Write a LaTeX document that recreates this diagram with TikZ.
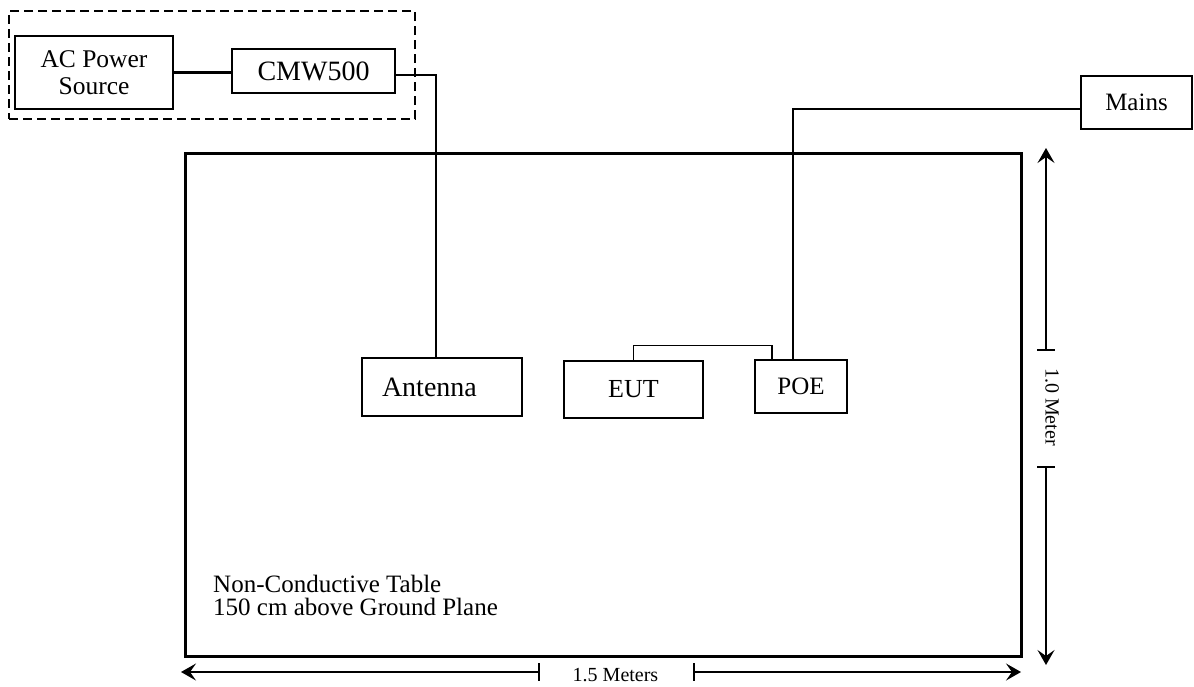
\documentclass[tikz,border=0pt]{standalone}
\usepackage{fontspec}
\setmainfont{Liberation Serif}
\usetikzlibrary{arrows.meta}
\begin{document}
\begin{tikzpicture}[x=1pt,y=-1pt,
  box/.style={draw,line width=1.4pt,inner sep=0pt,align=center},
  wire/.style={line width=1.2pt},
  dim/.style={line width=1.3pt},
  tip/.style={-{Stealth[length=15pt,width=17pt,inset=6pt]}},
  dimlabel/.style={font=\fontsize{20}{24}\selectfont,inner sep=0pt}
]
\useasboundingbox (0,0) rectangle (1194,686);

% equipment group
\node[draw,dash pattern=on 9pt off 5pt,line width=1.3pt,minimum width=406pt,minimum height=108pt,inner sep=0pt] (grp) at (212,65) {};
\node[box,minimum width=158pt,minimum height=73pt,font=\fontsize{25.5}{27}\selectfont] (ac) at (94,72.5) {AC Power\\Source};
\node[box,minimum width=163pt,minimum height=44pt,font=\fontsize{28}{32}\selectfont] (cmw) at (313.5,71) {CMW500};

% mains
\node[box,minimum width=111pt,minimum height=53pt,font=\fontsize{25}{30}\selectfont] (mains) at (1136.5,102.5) {Mains};

% table
\node[draw,line width=3pt,minimum width=836pt,minimum height=503pt,inner sep=0pt] (table) at (603,404.5) {};
\node[anchor=north west,align=left,inner sep=0pt,font=\fontsize{25}{23}\selectfont] (tlabel) at (213,575) {Non-Conductive Table\\150 cm above Ground Plane};

% devices on table
\node[box,minimum width=160pt,minimum height=58pt,text width=120pt,inner xsep=20pt,align=left,font=\fontsize{28}{32}\selectfont] (ant) at (442,387) {Antenna};
\node[box,minimum width=139pt,minimum height=57pt,font=\fontsize{26}{30}\selectfont] (eut) at (633.5,389.5) {EUT};
\node[box,minimum width=92pt,minimum height=53pt,font=\fontsize{25}{30}\selectfont] (poe) at (801,386.5) {POE};

% connectors
\draw[line width=3pt] (ac.east) -- (ac.east -| cmw.west);
\draw[wire] ([yshift=-4pt]cmw.east) -| ([xshift=-6pt]ant.north);
\draw[wire] (eut.north) -- ++(0,-15) -| ([xshift=-29pt]poe.north);
\draw[wire] ([yshift=-6.5pt]mains.west) -| ([xshift=-8pt]poe.north);

% horizontal dimension
\coordinate (bl) at (181,672);
\coordinate (br) at (1021,672);
\coordinate (bt1) at (539,672);
\coordinate (bt2) at (694,672);
\node[dimlabel] (blen) at (615.5,675) {1.5 Meters};
\draw[dim,tip] (bt1) -- (bl);
\draw[dim,tip] (bt2) -- (br);
\draw[dim] ([yshift=9pt]bt1) -- ([yshift=-9pt]bt1);
\draw[dim] ([yshift=9pt]bt2) -- ([yshift=-9pt]bt2);

% vertical dimension
\coordinate (vt) at (1046,148);
\coordinate (vb) at (1046,665);
\coordinate (vt1) at (1046,350);
\coordinate (vt2) at (1046,467);
\node[dimlabel,rotate=-90] (vlen) at (1052,407) {1.0 Meter};
\draw[dim,tip] (vt1) -- (vt);
\draw[dim,tip] (vt2) -- (vb);
\draw[dim] ([xshift=-9pt]vt1) -- ([xshift=9pt]vt1);
\draw[dim] ([xshift=-9pt]vt2) -- ([xshift=9pt]vt2);
\end{tikzpicture}
\end{document}
